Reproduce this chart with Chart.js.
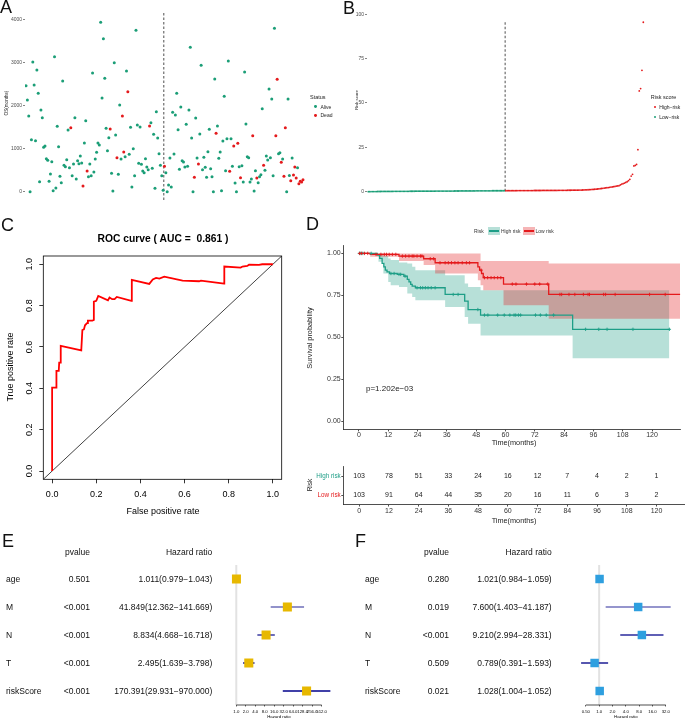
<!DOCTYPE html>
<html>
<head>
<meta charset="utf-8">
<title>Risk model figure</title>
<script src="https://cdn.jsdelivr.net/npm/chart.js@4.4.1/dist/chart.umd.min.js"></script>
<style>
  html, body { margin: 0; padding: 0; background: #fff; }
  #fig { position: relative; width: 685px; height: 720px; overflow: hidden;
         font-family: "Liberation Sans", Arial, Helvetica, sans-serif; }
  #fig canvas, #fig .t, #fig .k { position: absolute; }
  .t { white-space: pre; line-height: 1; color: #111; }
</style>
</head>
<body>
<div id="fig"></div>
<script>
// ─── A / B: patients ordered by risk score ───
const osTime = [
  2470, 2136, 1763, 0, 1212, 3021, 2485, 1188, 2835, 2291,
  233, 1903, 1724, 1033, 1064, 769, 730, 241, 412, 699,
  23, 3146, 85, 1522, 1049, 357, 210, 2579, 614, 583,
  746, 1437, 559, 1491, 373, 645, 1724, 295, 722, 652,
  831, 668, 132, 1134, 1654, 482, 350, 645, 373, 2765,
  458, 761, 917, 1134, 1087, 3946, 2183, 3565, 2641, 1476,
  955, 1258, 1460, 427, 16, 3006, 1320, 792, 404, 2019,
  761, 1763, 924, 816, 2812, 2330, 870, 1499, 109, 1002,
  373, 3759, 1553, 660, 1507, 637, 482, 443, 769, 575,
  513, 1530, 1608, 544, 1336, 78, 1864, 1250, 885, 614,
  373, 31,
  590, 443, 0, 155, 784, 109, 1849, 878,
  1786, 2291, 1445, 520, 1973, 722, 691, 575, 1569, 590,
  1903, 3363, 1250, 0, 334, 1716, 784, 645, 1344, 2944,
  513, 800, 567, 334, 932, 1452, 536, 350, 0, 2625,
  1359, 1530, 777, 924, 23, 1180, 2221, 489, 1235, 3045,
  474, 1235, 590, 1064, 202, 0, 1126, 583, 326, 606,
  225, 2788, 1577, 816, 792, 225, 295, 1305, 16, 489,
  318, 210, 350, 396, 1934, 614, 497, 831, 738, 2392,
  792, 2159, 373, 3806, 1305, 2618, 885, 909, 683, 761,
  357, 1491, 0, 2159, 380, 256, 784, 388, 575, 318,
  559, 186, 241, 225, 280
];
const osDead = [
  0, 0, 0, 0, 0, 0, 0, 0, 0, 0,
  0, 0, 0, 0, 0, 0, 0, 0, 0, 0,
  0, 0, 0, 0, 0, 0, 0, 0, 0, 0,
  0, 0, 0, 1, 0, 0, 0, 0, 0, 0,
  0, 0, 1, 0, 0, 1, 0, 0, 0, 0,
  0, 0, 0, 0, 0, 0, 0, 0, 0, 0,
  0, 0, 1, 0, 0, 0, 0, 1, 0, 0,
  0, 1, 1, 0, 0, 1, 0, 0, 0, 0,
  0, 0, 0, 0, 0, 0, 0, 0, 0, 0,
  0, 1, 0, 0, 0, 0, 0, 0, 0, 0,
  0, 0,
  1, 0, 0, 0, 0, 0, 0, 0,
  0, 0, 0, 0, 0, 0, 0, 0, 0, 0,
  0, 0, 0, 0, 1, 0, 0, 1, 0, 0,
  0, 0, 0, 0, 0, 0, 0, 0, 0, 0,
  1, 0, 0, 0, 0, 0, 0, 0, 0, 0,
  1, 0, 0, 1, 0, 0, 1, 0, 1, 0,
  0, 0, 0, 0, 0, 0, 0, 1, 0, 0,
  1, 0, 0, 0, 0, 1, 0, 0, 0, 0,
  0, 0, 0, 0, 1, 1, 0, 0, 1, 0,
  1, 1, 0, 0, 0, 1, 0, 1, 1, 1,
  0, 1, 1, 1, 1
];
const riskScore = [
  0.02, 0.04, 0.05, 0.06, 0.07, 0.08, 0.09, 0.10, 0.11, 0.12,
  0.13, 0.13, 0.14, 0.15, 0.15, 0.16, 0.17, 0.17, 0.18, 0.19,
  0.19, 0.20, 0.20, 0.21, 0.21, 0.22, 0.22, 0.23, 0.23, 0.24,
  0.24, 0.25, 0.25, 0.26, 0.26, 0.27, 0.27, 0.27, 0.28, 0.28,
  0.29, 0.29, 0.30, 0.30, 0.30, 0.31, 0.31, 0.32, 0.32, 0.32,
  0.33, 0.33, 0.34, 0.34, 0.35, 0.35, 0.35, 0.36, 0.36, 0.37,
  0.37, 0.38, 0.38, 0.38, 0.39, 0.39, 0.40, 0.40, 0.41, 0.41,
  0.42, 0.42, 0.43, 0.43, 0.44, 0.44, 0.45, 0.45, 0.46, 0.46,
  0.47, 0.47, 0.48, 0.48, 0.49, 0.49, 0.50, 0.50, 0.51, 0.51,
  0.52, 0.52, 0.53, 0.53, 0.53, 0.54, 0.54, 0.54, 0.55, 0.55,
  0.55, 0.56,
  0.56, 0.57, 0.57, 0.58, 0.58, 0.59, 0.59, 0.60, 0.60, 0.61,
  0.61, 0.62, 0.62, 0.63, 0.63, 0.64, 0.64, 0.65, 0.65, 0.66,
  0.66, 0.67, 0.67, 0.68, 0.68, 0.69, 0.69, 0.70, 0.70, 0.71,
  0.71, 0.71, 0.72, 0.72, 0.72, 0.73, 0.73, 0.74, 0.74, 0.75,
  0.75, 0.76, 0.77, 0.78, 0.79, 0.80, 0.81, 0.82, 0.83, 0.84,
  0.85, 0.86, 0.87, 0.88, 0.89, 0.90, 0.93, 0.96, 0.99, 1.03,
  1.07, 1.11, 1.16, 1.21, 1.26, 1.31, 1.38, 1.45, 1.53, 1.62,
  1.71, 1.80, 1.90, 2.02, 2.14, 2.26, 2.35, 2.45, 2.58, 2.70,
  2.82, 2.95, 3.15, 3.28, 3.42, 3.80, 4.30, 4.55, 4.85, 5.20,
  5.60, 6.20, 7.00, 8.80, 9.80, 14.5, 14.8, 15.4, 23.7, 56.8,
  58.1, 68.4, 95.5
];
const nLow = 102;   // low-risk patients, left of the median cut
const osTicks = [0, 1000, 2000, 3000, 4000];
const riskTicks = [0, 25, 50, 75, 100];

// ─── C: ROC ───
const rocFpr = [0, 0, 0.0195, 0.0195, 0.030, 0.032, 0.038, 0.039, 0.132, 0.137,
  0.144, 0.149, 0.158, 0.162, 0.182, 0.189, 0.189, 0.200, 0.209, 0.253,
  0.260, 0.272, 0.283, 0.293, 0.359, 0.361, 0.440, 0.456, 0.471, 0.486,
  0.508, 0.591, 0.666, 0.674, 0.779, 0.780, 0.854, 0.862, 0.884, 0.892,
  0.937, 0.952, 1.0];
const rocTpr = [0, 0.403, 0.403, 0.484, 0.484, 0.524, 0.524, 0.605, 0.584, 0.682,
  0.685, 0.705, 0.715, 0.727, 0.727, 0.731, 0.819, 0.823, 0.847, 0.826,
  0.839, 0.831, 0.831, 0.842, 0.823, 0.924, 0.905, 0.927, 0.934, 0.931,
  0.940, 0.921, 0.918, 0.921, 0.906, 0.989, 0.984, 0.989, 0.992, 0.998,
  0.997, 1.0, 1.0];
const rocTicks = [0, 0.2, 0.4, 0.6, 0.8, 1.0];
const rocLim = [-0.04, 1.04];

// ─── D: Kaplan-Meier ───
const highTime = [0, 7.5, 8.5, 9.5, 10.2, 10.8, 11.5, 12.5, 15.7, 18.4, 19.8, 20.5, 21.2, 21.8, 23.1, 35.3, 43.3, 44.7, 49.8, 87.5, 127.1];
const highSurv = [1, 0.99, 0.97, 0.94, 0.92, 0.90, 0.89, 0.88, 0.875, 0.864, 0.845, 0.83, 0.815, 0.805, 0.795, 0.755, 0.715, 0.665, 0.632, 0.547, 0.547];
const lowTime = [0, 4.6, 16.4, 26.5, 31.2, 48.7, 49.4, 50.2, 50.9, 59.2, 77.7, 132];
const lowSurv = [1, 0.994, 0.984, 0.968, 0.944, 0.92, 0.90, 0.88, 0.855, 0.817, 0.755, 0.755];
const highBandTime = [0, 8, 10, 12, 13, 16.4, 19.8, 21.8, 23.1, 35.3, 43.3, 44.7, 49.8, 87.5, 127.1];
const highUpper = [1, 1, 0.985, 0.97, 0.96, 0.945, 0.94, 0.92, 0.90, 0.87, 0.82, 0.80, 0.78, 0.78, 0.78];
const highLower = [1, 0.95, 0.88, 0.83, 0.81, 0.80, 0.76, 0.74, 0.72, 0.68, 0.62, 0.58, 0.51, 0.375, 0.375];
const lowBandTime = [0, 4.6, 16.4, 26.5, 31.2, 48.7, 49.8, 50.9, 59.2, 77.7, 132];
const lowUpper = [1, 1, 1, 1, 1, 1, 0.955, 0.955, 0.955, 0.94, 0.94];
const lowLower = [1, 0.98, 0.955, 0.93, 0.88, 0.84, 0.81, 0.78, 0.69, 0.61, 0.61];
const highCensorTime = [0.2, 0.8, 1.6, 5.0, 13.1, 14.4, 16.4, 17.1, 18.9,
  23.8, 25.2, 26.1, 27.2, 28.3, 29.6, 31.2, 38.6, 40.6, 48.7,
  51.4, 52.8, 56.8, 59.5, 61.8, 63.5, 64.2, 65.3, 66.2, 72.3, 74.3, 76.7, 79.7,
  92.8, 98.2, 101.6, 112.2, 127.1];
const highCensorSurv = [1, 1, 1, 1, 0.88, 0.88, 0.875, 0.875, 0.864,
  0.795, 0.795, 0.795, 0.795, 0.795, 0.795, 0.795, 0.755, 0.755, 0.665,
  0.632, 0.632, 0.632, 0.632, 0.632, 0.632, 0.632, 0.632, 0.632, 0.632, 0.632, 0.632, 0.632,
  0.547, 0.547, 0.547, 0.547, 0.547];
const lowCensorTime = [0.3, 1.1, 2.3, 3.6, 7, 9, 10.4, 11.3, 12.4, 13.7, 15.1,
  17.8, 19.1, 20.5, 21.8, 22.5, 23.8, 25.2, 25.8, 29.2, 30.6,
  33.2, 35.3, 36.6, 37.9, 39.3, 40.6, 42.3, 44.0, 45.3, 50.0,
  51.4, 52.7, 54.1, 55.4, 56.8, 58.1, 62.8, 64.3, 68.6, 72.0, 74.0, 77.3,
  82.3, 83.0, 86.0, 88.4, 91.9, 93.8, 94.4, 100.2, 101.0, 104.9, 119.0, 125.4];
const lowCensorSurv = [1, 1, 1, 1, 0.994, 0.994, 0.994, 0.994, 0.994, 0.994, 0.994,
  0.984, 0.984, 0.984, 0.984, 0.984, 0.984, 0.984, 0.984, 0.968, 0.968,
  0.944, 0.944, 0.944, 0.944, 0.944, 0.944, 0.944, 0.944, 0.944, 0.90,
  0.855, 0.855, 0.855, 0.855, 0.855, 0.855, 0.817, 0.817, 0.817, 0.817, 0.817, 0.817,
  0.755, 0.755, 0.755, 0.755, 0.755, 0.755, 0.755, 0.755, 0.755, 0.755, 0.755, 0.755];
const kmTicks = [0, 12, 24, 36, 48, 60, 72, 84, 96, 108, 120];
const survTicks = [0, 0.25, 0.5, 0.75, 1];
const riskGroups = ['High risk', 'Low risk'];
const atRiskHigh = [103, 78, 51, 33, 24, 16, 12, 7, 4, 2, 1];
const atRiskLow = [103, 91, 64, 44, 35, 20, 16, 11, 6, 3, 2];

// ─── E / F: Cox forest plots ───
const coxVars = ['age', 'M', 'N', 'T', 'riskScore'];
const uniP = ['0.501', '<0.001', '<0.001', '<0.001', '<0.001'];
const uniHR = [1.011, 41.849, 8.834, 2.495, 170.391];
const uniLo = [0.979, 12.362, 4.668, 1.639, 29.931];
const uniHi = [1.043, 141.669, 16.718, 3.798, 970.000];
const multiP = ['0.280', '0.019', '<0.001', '0.509', '0.021'];
const multiHR = [1.021, 7.600, 9.210, 0.789, 1.028];
const multiLo = [0.984, 1.403, 2.994, 0.391, 1.004];
const multiHi = [1.059, 41.187, 28.331, 1.593, 1.052];
const uniTicks = [1, 2, 4, 8, 16, 32, 64, 128, 256, 512];
const multiTicks = [0.5, 1, 2, 4, 8, 16, 32];

// ─── 공통 ───
const FONT = '"Liberation Sans", Arial, Helvetica, sans-serif';
const GREEN = '#1B9E77', RED = '#E41A1C';
const TEAL = '#1E9E87';
const TEAL_FILL = 'rgba(30,158,135,0.32)', PINK_FILL = 'rgba(228,26,28,0.32)';

Chart.defaults.font.family = FONT;
Chart.defaults.font.lineHeight = 1;
Chart.defaults.animation = false;
Chart.defaults.responsive = false;
Chart.defaults.events = [];
Chart.defaults.plugins.legend.display = false;
Chart.defaults.plugins.tooltip.enabled = false;

const fig = document.getElementById('fig');

function makeCanvas(x, y, w, h) {
  const c = document.createElement('canvas');
  c.width = w; c.height = h;
  c.style.left = x + 'px'; c.style.top = y + 'px';
  fig.appendChild(c);
  return c.getContext('2d');
}

// text centred vertically on y; align l / c / r on x
function txt(s, x, y, size, o = {}) {
  const d = document.createElement('div');
  d.className = 't';
  d.textContent = s;
  d.style.left = x + 'px'; d.style.top = y + 'px';
  d.style.fontSize = size + 'px';
  if (o.color) d.style.color = o.color;
  if (o.bold) d.style.fontWeight = 'bold';
  const tx = o.align === 'r' ? '-100%' : o.align === 'c' ? '-50%' : '0';
  d.style.transform = o.rot ? 'translate(-50%,-50%) rotate(-90deg)' : `translate(${tx},-50%)`;
  fig.appendChild(d);
  return d;
}

function dot(x, y, r, color) {
  const d = document.createElement('div');
  d.className = 'k';
  Object.assign(d.style, { left: (x - r) + 'px', top: (y - r) + 'px', width: 2 * r + 'px',
    height: 2 * r + 'px', borderRadius: '50%', background: color });
  fig.appendChild(d);
}

function key(x, y, w, h, fill, line) {
  const k = document.createElement('div');
  k.className = 'k';
  Object.assign(k.style, { left: x + 'px', top: y + 'px', width: w + 'px', height: h + 'px', background: fill });
  const l = document.createElement('div');
  Object.assign(l.style, { position: 'absolute', left: '1px', right: '1px', top: (h / 2 - 0.6) + 'px',
    height: '1.2px', background: line });
  k.appendChild(l);
  fig.appendChild(k);
}

const fixW = w => s => { s.width = w; };
const fixH = h => s => { s.height = h; };
const setTicks = vals => s => { s.ticks = vals.map(v => ({ value: v })); };
const pts = (xs, ys) => xs.map((v, i) => ({ x: v, y: ys[i] }));

// ggplot-style left axis with ticks only
function ggY(min, max, ticks, width) {
  return {
    min, max, afterBuildTicks: setTicks(ticks), afterFit: fixW(width),
    border: { display: false },
    grid: { drawOnChartArea: false, tickLength: 2, tickColor: '#333', lineWidth: 0.6 },
    ticks: { font: { size: 5 }, color: '#4d4d4d', padding: 1, callback: v => String(v) }
  };
}

// dashed line at the risk-score median cut
function cutLine(yFrom, yTo) {
  return {
    id: 'cut',
    beforeDatasetsDraw(chart) {
      const { ctx, chartArea: a, scales: { x, y } } = chart;
      const px = x.getPixelForValue(nLow + 0.5);
      ctx.save();
      ctx.strokeStyle = '#222'; ctx.lineWidth = 0.8; ctx.setLineDash([2.5, 2]);
      ctx.beginPath();
      ctx.moveTo(px, yTo == null ? a.top : y.getPixelForValue(yTo));
      ctx.lineTo(px, yFrom == null ? a.bottom : y.getPixelForValue(yFrom));
      ctx.stroke();
      ctx.restore();
    }
  };
}

// ─── A: survival status ───
new Chart(makeCanvas(0, 0, 340, 205), {
  type: 'scatter',
  data: { datasets: [{
    data: osTime.map((v, i) => ({ x: i + 1, y: v })),
    backgroundColor: osDead.map(d => (d ? RED : GREEN)),
    pointRadius: 1.5, borderWidth: 0
  }] },
  options: {
    layout: { padding: { left: 0, right: 32, top: 13, bottom: 4 } },
    scales: {
      x: { display: false, min: 0.26, max: 208.7 },
      y: ggY(-217, 4163, osTicks, 25)
    }
  },
  plugins: [cutLine(null, null)]
});
txt('A', 0, 7, 18);
txt('OS(months)', 7, 103, 4.6, { rot: true, color: '#222' });
txt('Status', 310, 98, 5.5, { color: '#222' });
dot(315.3, 106.7, 1.4, GREEN); txt('Alive', 320.5, 106.7, 5, { color: '#222' });
dot(315.3, 115.3, 1.4, RED); txt('Dead', 320.5, 115.3, 5, { color: '#222' });

// ─── B: risk score distribution ───
new Chart(makeCanvas(340, 0, 345, 205), {
  type: 'scatter',
  data: { datasets: [{
    data: riskScore.map((v, i) => ({ x: i + 1, y: v })),
    backgroundColor: riskScore.map((_, i) => (i < nLow ? GREEN : RED)),
    pointRadius: 0.9, borderWidth: 0
  }] },
  options: {
    layout: { padding: { left: 0, right: 39, top: 10, bottom: 4 } },
    scales: {
      x: { display: false, min: 0.036, max: 207 },
      y: ggY(-5.24, 102.4, riskTicks, 27)
    }
  },
  plugins: [cutLine(0, Math.max(...riskScore))]
});
txt('B', 343, 8, 18);
txt('Risk score', 357, 100, 4.2, { rot: true, color: '#222' });
txt('Risk score', 650.7, 98, 5.5, { color: '#222' });
dot(655, 106.7, 1.1, RED); txt('High\u2212risk', 659.3, 106.7, 5, { color: '#222' });
dot(655, 117.3, 1.1, GREEN); txt('Low\u2212risk', 659.3, 117.3, 5, { color: '#222' });

// ─── C: ROC ───
const rocFrame = {
  id: 'rocFrame',
  afterDraw(chart) {
    const { ctx, chartArea: a, scales: { y } } = chart;
    ctx.save();
    ctx.strokeStyle = '#000'; ctx.lineWidth = 0.8;
    ctx.strokeRect(a.left, a.top, a.width, a.height);
    ctx.fillStyle = '#000'; ctx.font = `9px ${FONT}`;
    ctx.textAlign = 'center'; ctx.textBaseline = 'middle';
    rocTicks.forEach(v => {
      ctx.save();
      ctx.translate(a.left - 13.3, y.getPixelForValue(v));
      ctx.rotate(-Math.PI / 2);
      ctx.fillText(v.toFixed(1), 0, 0);
      ctx.restore();
    });
    ctx.restore();
  }
};
const rAxis = {
  min: rocLim[0], max: rocLim[1], afterBuildTicks: setTicks(rocTicks),
  border: { display: false },
  grid: { drawOnChartArea: false, tickLength: 4, tickColor: '#000', lineWidth: 0.8 }
};
new Chart(makeCanvas(0, 210, 300, 310), {
  type: 'scatter',
  data: { datasets: [
    { data: pts(rocFpr, rocTpr), showLine: true, borderColor: '#FF0000', borderWidth: 1.8, pointRadius: 0 },
    { data: pts(rocLim, rocLim), showLine: true, borderColor: '#111', borderWidth: 0.8, pointRadius: 0 }
  ] },
  options: {
    layout: { padding: { left: 0, right: 18.3, top: 46, bottom: 0 } },
    scales: {
      x: { ...rAxis, afterFit: fixH(40.7),
           ticks: { font: { size: 9 }, color: '#000', padding: 7, maxRotation: 0, callback: v => v.toFixed(1) } },
      y: { ...rAxis, afterFit: fixW(43.3), ticks: { display: false } }
    }
  },
  plugins: [rocFrame]
});
txt('C', 1, 224.5, 18);
txt('ROC curve ( AUC =  0.861 )', 163, 239, 10.3, { align: 'c', bold: true, color: '#000' });
txt('False positive rate', 163, 511, 9, { align: 'c', color: '#000' });
txt('True positive rate', 10, 367, 9, { rot: true, color: '#000' });

// ─── D: Kaplan-Meier ───
const kmLine = (t, s, color) => ({ data: pts(t, s), borderColor: color, borderWidth: 1.3, pointRadius: 0, stepped: 'before', fill: false });
const kmBand = (t, s, color, fill) => ({ data: pts(t, s), borderColor: 'rgba(0,0,0,0)', borderWidth: 0, pointRadius: 0, stepped: 'before', backgroundColor: color, fill });
const kmCensor = (t, s, color) => ({ data: pts(t, s), showLine: false, pointStyle: 'cross', pointRadius: 1.7, borderColor: color, borderWidth: 0.9 });
const kmX = {
  type: 'linear', min: -6.4, max: 131.5, afterBuildTicks: setTicks(kmTicks),
  border: { color: '#222', width: 0.8 },
  grid: { drawOnChartArea: false, tickLength: 2, tickColor: '#222', lineWidth: 0.8 },
  ticks: { font: { size: 7 }, color: '#333', padding: 0, maxRotation: 0, autoSkip: false, callback: v => String(v) }
};
new Chart(makeCanvas(300, 210, 385, 245), {
  type: 'line',
  data: { datasets: [
    kmCensor(lowCensorTime, lowCensorSurv, RED),
    kmCensor(highCensorTime, highCensorSurv, TEAL),
    kmLine(lowTime, lowSurv, RED),
    kmLine(highTime, highSurv, TEAL),
    kmBand(lowBandTime, lowUpper, PINK_FILL, '+1'),
    kmBand(lowBandTime, lowLower, PINK_FILL, false),
    kmBand(highBandTime, highUpper, TEAL_FILL, '+1'),
    kmBand(highBandTime, highLower, TEAL_FILL, false)
  ] },
  options: {
    layout: { padding: { left: 0, right: 0, top: 35, bottom: 0 } },
    scales: {
      x: { ...kmX, afterFit: fixH(25.6) },
      y: {
        min: -0.05, max: 1.05, afterBuildTicks: setTicks(survTicks), afterFit: fixW(43.3),
        border: { color: '#222', width: 0.8 },
        grid: { drawOnChartArea: false, tickLength: 2, tickColor: '#222', lineWidth: 0.8 },
        ticks: { font: { size: 7 }, color: '#333', padding: 0.6, callback: v => v.toFixed(2) }
      }
    }
  }
});
txt('D', 306, 224, 18);
txt('Survival probability', 310, 337.5, 7.3, { rot: true, color: '#222' });
txt('Time(months)', 514, 442.5, 7.3, { align: 'c', color: '#222' });
txt('p=1.202e\u221203', 366, 389, 8, { color: '#222' });
txt('Risk', 474, 231, 5, { color: '#333' });
key(488, 227, 12, 8, TEAL_FILL, TEAL); txt('High risk', 501, 231, 5, { color: '#333' });
key(522.7, 227, 12, 8, PINK_FILL, RED); txt('Low risk', 535.5, 231, 5, { color: '#333' });

// ─── D: number at risk table ───
const riskColors = [TEAL, RED];
const atRiskPlugin = {
  id: 'atRisk',
  afterDraw(chart) {
    const { ctx, scales: { x, y } } = chart;
    ctx.save();
    ctx.fillStyle = '#222'; ctx.font = `7px ${FONT}`;
    ctx.textAlign = 'center'; ctx.textBaseline = 'middle';
    [atRiskHigh, atRiskLow].forEach((row, g) => row.forEach((n, j) => {
      ctx.fillText(String(n), x.getPixelForValue(kmTicks[j]), y.getPixelForValue(g));
    }));
    ctx.restore();
  }
};
new Chart(makeCanvas(300, 455, 385, 75), {
  type: 'scatter',
  data: { datasets: [] },
  options: {
    layout: { padding: { left: 0, right: 0, top: 11.5, bottom: 0 } },
    scales: {
      x: { ...kmX, afterFit: fixH(25.5), ticks: { ...kmX.ticks, padding: 1 } },
      y: {
        type: 'category', labels: riskGroups, offset: true, afterFit: fixW(43.3),
        border: { color: '#222', width: 0.8 },
        grid: { drawOnChartArea: false, offset: false, tickLength: 2, tickColor: '#222', lineWidth: 0.8 },
        ticks: { font: { size: 6.3 }, color: c => riskColors[c.index], padding: 0.6 }
      }
    }
  },
  plugins: [atRiskPlugin]
});
txt('Risk', 310, 485, 6.5, { rot: true, color: '#222' });
txt('Time(months)', 514, 520.5, 7.3, { align: 'c', color: '#222' });

// ─── E / F: forest plots ───
function forestAxis(ticks) {
  return {
    id: 'forestAxis',
    beforeDatasetsDraw(chart) {
      const { ctx, chartArea: a, scales: { x } } = chart;
      const px = x.getPixelForValue(1);
      ctx.save();
      ctx.strokeStyle = '#e2e2e2'; ctx.lineWidth = 2;
      ctx.beginPath(); ctx.moveTo(px, a.top); ctx.lineTo(px, a.bottom); ctx.stroke();
      ctx.restore();
    },
    afterDraw(chart) {
      const { ctx, chartArea: a, scales: { x } } = chart;
      const x0 = x.getPixelForValue(ticks[0]);
      const x1 = x.getPixelForValue(ticks[ticks.length - 1]);
      ctx.save();
      ctx.strokeStyle = '#000'; ctx.lineWidth = 0.7;
      ctx.beginPath(); ctx.moveTo(x0, a.bottom); ctx.lineTo(x1, a.bottom); ctx.stroke();
      ctx.fillStyle = '#000'; ctx.font = `4.3px ${FONT}`;
      ctx.textAlign = 'center'; ctx.textBaseline = 'middle';
      ctx.fillText('Hazard ratio', (x0 + x1) / 2, a.bottom + 12);
      ctx.restore();
    }
  };
}

function forest(left, hr, lo, hi, ticks, xmin, xmax, padLeft, sqColor, ciColors, sqRadius) {
  new Chart(makeCanvas(left, 555, 115, 165), {
    type: 'scatter',
    data: { datasets: [
      { data: hr.map((v, i) => ({ x: v, y: i + 1 })), pointStyle: 'rect', pointRadius: sqRadius,
        backgroundColor: sqColor, borderWidth: 0 },
      ...hr.map((_, i) => ({ data: [{ x: lo[i], y: i + 1 }, { x: hi[i], y: i + 1 }], showLine: true,
        borderColor: ciColors[i], borderWidth: 1.5, pointRadius: 0 }))
    ] },
    options: {
      layout: { padding: { left: padLeft, right: 0, top: 10, bottom: 0 } },
      scales: {
        x: {
          type: 'logarithmic', min: xmin, max: xmax, afterBuildTicks: setTicks(ticks), afterFit: fixH(15),
          border: { display: false },
          grid: { drawOnChartArea: false, tickLength: 1.5, tickColor: '#000', lineWidth: 0.6 },
          ticks: { font: { size: 4.3 }, color: '#000', padding: 3, maxRotation: 0, minRotation: 0,
                   autoSkip: false, callback: v => (v < 1 ? v.toFixed(2) : v.toFixed(1)) }
        },
        y: { display: false, min: 0.5, max: 5.5, reverse: true }
      }
    },
    plugins: [forestAxis(ticks)]
  });
}

function coxTable(xName, xP, xHR, p, hr, lo, hi) {
  txt('pvalue', xP, 551.7, 8.5, { align: 'r' });
  txt('Hazard ratio', xHR, 551.7, 8.5, { align: 'r' });
  coxVars.forEach((v, i) => {
    const y = 565 + 28 * (i + 0.5);
    txt(v, xName, y, 8.5);
    txt(p[i], xP, y, 8.5, { align: 'r' });
    txt(`${hr[i].toFixed(3)}(${lo[i].toFixed(3)}\u2212${hi[i].toFixed(3)})`, xHR, y, 8.5, { align: 'r' });
  });
}

const ciColE = ['#00008B', '#6E6EB8', '#3A3AA0', '#1E1E94', '#00008B'];
const ciColF = ['#00008B', '#7272BC', '#2A2A9C', '#1E1E94', '#00008B'];

forest(225, uniHR, uniLo, uniHi, uniTicks, 0.70, 1228, 4, '#E7B800', ciColE, 6.4);
coxTable(6, 90, 212.3, uniP, uniHR, uniLo, uniHi);
txt('E', 2, 540.5, 18);

forest(570, multiHR, multiLo, multiHi, multiTicks, 0.335, 63.5, 0, '#2E9FDF', ciColF, 6);
coxTable(365, 449, 551.7, multiP, multiHR, multiLo, multiHi);
txt('F', 355, 540.5, 18);
</script>
</body>
</html>
